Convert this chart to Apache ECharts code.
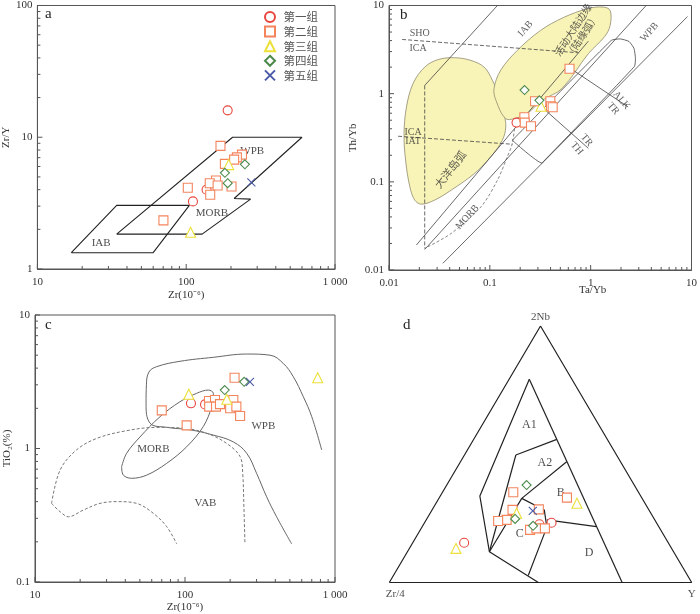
<!DOCTYPE html>
<html><head><meta charset="utf-8">
<script src="https://cdn.jsdelivr.net/npm/echarts@6/dist/echarts.min.js"></script>
<style>html,body{margin:0;padding:0;background:#fff}#c{width:700px;height:614px}</style>
</head><body><div id="c"></div>
<script>
const groups = ['第一组','第二组','第三组','第四组','第五组'];

// ---- Panel a: Zr (1e-6) vs Zr/Y ----
const aG1 = [[190,16.0],[137,4.0],[111,3.26]];
const aG2 = [[170,8.6],[102.5,4.14],[70.3,2.34],[237,7.38],[219,7.04],[210,6.76],[182,6.28],[158.5,4.69],[144,4.48],[162.6,4.3],[201.6,4.23],[145,3.66]];
const aG3 = [[193,6.2],[107,1.9]];
const aG4 = [[248,6.23],[182,5.37],[190,4.48]];
const aG5 = [[274,4.54]];
const aIAB = [[16.9,1.33],[34.1,3.04],[105,3.04],[60,1.33],[16.9,1.33]];
const aMorbWpb = [[34.1,1.84],[127.9,1.84],[271,3.39],[210,3.43],[600,10],[205,10],[34.1,1.84]];
const aLabels = [['WPB',278,7.9],['MORB',149,2.66],['IAB',26.8,1.56]];

// ---- Panel b: Ta/Yb vs Th/Yb ----
const bG1 = [[0.184,0.47]];
const bG2 = [[0.617,1.92],[0.398,0.819],[0.404,0.719],[0.42,0.70],[0.281,0.819],[0.220,0.540],[0.222,0.470],[0.256,0.427]];
const bG3 = [[0.322,0.719]];
const bG4 = [[0.221,1.10],[0.310,0.840]];
const bG5 = [];
const bOceanArc = [[0.0446,2.56],[0.0650,2.38],[0.0879,2.0],[0.106,1.42],[0.124,0.916],[0.138,0.594],[0.144,0.419],[0.133,0.296],[0.102,0.192],[0.0702,0.124],[0.0414,0.0805],[0.0283,0.062],[0.0210,0.0558],[0.0180,0.062],[0.0161,0.0877],[0.0146,0.176],[0.0141,0.352],[0.0149,0.706],[0.0173,1.30],[0.0226,2.0],[0.0305,2.43]];
const bActiveMargin = [[0.144,0.521],[0.115,0.840],[0.110,1.14],[0.128,1.84],[0.187,3.09],[0.318,5.21],[0.538,7.31],[0.949,9.25],[1.33,9.6],[1.56,8.78],[1.56,5.94],[1.38,4.46],[0.949,2.84],[0.518,1.14],[0.330,0.840],[0.234,0.594],[0.186,0.532]];
const bVertical = [[0.0226,1.24],[0.0226,0.0176]];
const bIABLine = [[0.0226,1.24],[0.119,10]];
const bShoIca = [[0.0135,4.12],[0.756,2.91]];
const bIcaIat = [[0.0123,0.329],[0.167,0.267]];
const bLineA = [[0.0187,0.0192],[0.948,3.94]];
const bLineB = [[0.0226,0.0171],[3.55,10]];
const bLineC = [[0.0342,0.0119],[9.14,7.5]];
const bAlkTr = [[0.603,2.0],[2.35,0.706]];
const bTrTh = [[0.356,0.648],[0.948,0.240]];
const bIatCurve = [[0.180,0.521],[0.167,0.272],[0.149,0.192],[0.119,0.1045],[0.0817,0.0521],[0.0414,0.026],[0.0226,0.0176]];
const bWpbField = [[0.167,0.296],[1.60,4.02],[1.96,4.18],[2.40,3.91],[2.69,3.26],[2.78,2.51],[2.72,2.04],[0.342,0.171],[0.330,0.163],[0.167,0.296]];
const bLabels = [['SHO',0.0202,4.78],['ICA',0.0194,3.29],['ICA',0.0173,0.368],['IAT',0.0173,0.284]];
const bLabelsRot = [['IAB',0.226,5.45],['MORB',0.0598,0.0398],['WPB',3.84,4.99],['大洋岛弧',0.0414,0.1355],['活动大陆边缘\n（陆缘弧）',0.757,4.82]];
const bLabelsRotCW = [['ALK',2.02,0.84],['TR',1.67,0.677],['TR',0.912,0.296],['TH',0.728,0.239]];

// ---- Panel c: Zr vs TiO2 ----
const cG1 = [[109.6,2.18],[136,2.14]];
const cG2 = [[214,3.39],[70,1.93],[102.6,1.49],[144.5,2.27],[158.5,2.31],[145,2.06],[161,2.06],[171,2.15],[210,2.31],[200,2.0],[220,2.06],[233,1.75]];
const cG3 = [[106,2.55],[190,2.34],[767,3.39]];
const cG4 = [[184,2.74],[248,3.16]];
const cG5 = [[271,3.16]];
const cWPB = [[514,0.193],[408,0.308],[350,0.435],[300,0.652],[258,0.92],[210,1.12],[154.5,1.26],[108,1.38],[75.5,1.44],[58.4,1.55],[55,2.18],[55.3,3.0],[57.5,3.74],[64.7,4.1],[92.6,4.5],[154.5,4.82],[258,5.1],[369,5.0],[452,4.34],[527,3.45],[615,2.44],[700,1.73],[815,0.975]];
const cMORB = [[37.8,0.731],[38.8,0.632],[44.1,0.598],[55.6,0.632],[75.5,0.774],[102.6,1.03],[132.4,1.46],[150.7,2.06],[154.5,2.59],[143,2.74],[119.6,2.59],[92.6,2.24],[68.1,1.73],[50.1,1.22],[40.8,0.92],[37.8,0.731]];
const cVABOuter = [[12.9,0.388],[14.7,0.69],[18.9,0.975],[25.8,1.19],[40.8,1.36],[64.7,1.44],[97.5,1.42],[139.5,1.30],[190,1.09],[233,0.869],[242.5,0.652],[247,0.366],[251,0.193]];
const cVABInner = [[12.9,0.388],[14.7,0.336],[16.7,0.308],[21,0.346],[27.1,0.388],[35.1,0.4],[47.6,0.388],[61.5,0.327],[75.5,0.26],[88.1,0.193]];
const cLabels = [['MORB',61.5,0.995],['WPB',333,1.47],['VAB',137,0.388]];

// ---- Panel d: ternary [Zr/4, 2Nb, Y] ----
const dG1 = [[34.7,23.3,42.0],[39.0,22.7,38.3],[67.5,15.5,17.0]];
const dG2 = [[41.4,35.2,23.4],[24.7,33.1,42.2],[45.1,28.3,26.6],[49.0,24.4,26.6],[52.0,24.0,24.0],[36.3,28.5,35.2],[43.2,20.5,36.3],[40.8,21.1,38.1],[38.0,21.1,40.9]];
const dG3 = [[22.5,30.9,46.6],[44.4,27.0,28.6],[71.3,13.3,15.4]];
const dG4 = [[35.6,38.0,26.4],[46.0,24.8,29.2],[41.4,22.1,36.5]];
const dG5 = [[38.6,27.9,33.5]];
const dOutline = [[100,0,0],[0,100,0],[0,0,100],[100,0,0]];
const dFieldLines = [
  [[14.1,79.2,6.7],[53.2,33.7,13.1],[60.9,12.0,27.1],[50.7,0,49.3]],
  [[14.1,79.2,6.7],[23.0,0,77.0]],
  [[33.3,49.7,17.0],[16.7,55.8,27.5]],
  [[60.9,12.0,27.1],[33.3,49.7,17.0]],
  [[60.9,12.0,27.1],[39.8,32.8,27.4],[17.8,47.1,35.1]],
  [[39.8,32.8,27.4],[34.6,28.3,37.1],[37.1,21.6,41.3],[52.7,2.7,44.6]],
  [[35.7,24.4,39.9],[20.6,21.8,57.6]]
];
const dLabels = [['A1',23.0,61.4,15.6],['A2',25.2,46.7,28.1],['B',25.9,34.8,39.3],['C',47.4,18.9,33.7],['D',28.2,11.4,60.4]];
const dVertexLabels = [['2Nb',0,100,0,'top'],['Zr/4',100,0,0,'bottom'],['Y',0,0,100,'bottom']];

// tick values
const aXMajor = [10,100,1000], aYMajor = [1,10,100];
const bXMajor = [0.01,0.1,1,10], bYMajor = [0.01,0.1,1,10];
const cXMajor = [10,100,1000], cYMajor = [0.1,1,10];

// ---------- build ----------
const SERIF = '"Liberation Serif","Noto Sans CJK SC",serif';
const AX = '#555';
const tern = p => { const s = p[0]+p[1]+p[2]; const a = p[1]/s, c = p[2]/s; return [c + a/2, a]; };
const minorTicks = (lo, hi) => { const r = []; for (let d = lo; d < hi*0.999; d *= 10) for (let k = 2; k <= 9; k++) r.push(+(k*d).toPrecision(3)); return r; };
const fmt = v => Math.abs(v-1000) < 1e-6 ? '1 000' : String(+(+v).toPrecision(3));

function logAxis(grid, min, max, majors, isX, name, nameGap) {
  return {
    type:'log', logBase:10, gridIndex:grid, min, max, position: isX?'bottom':'left',
    axisLine:{show:true, onZero:false, lineStyle:{color:AX, width:1}},
    axisTick:{show:false},
    axisLabel:{show:true, customValues:majors, formatter:fmt, fontFamily:SERIF, fontSize:11, color:'#333', margin:isX?8:5},
    splitLine:{show:false}, minorTick:{show:false},
    name, nameLocation:'middle', nameGap, nameTextStyle:{fontFamily:SERIF, fontSize:11, color:'#333'}
  };
}
const xAxes = [
  logAxis(0, 10, 1000, aXMajor, true, 'Zr(10⁻⁶)', 21),
  logAxis(1, 0.01, 10, bXMajor, true, '', 20),
  logAxis(2, 10, 1000, cXMajor, true, 'Zr(10⁻⁶)', 18),
  {type:'value', gridIndex:3, min:0, max:1, show:false}
];
const yAxes = [
  logAxis(0, 1, 100, aYMajor, false, 'Zr/Y', 21),
  logAxis(1, 0.01, 10, bYMajor, false, 'Th/Yb', 30),
  logAxis(2, 0.1, 10, cYMajor, false, 'TiO₂(%)', 21),
  {type:'value', gridIndex:3, min:0, max:1, show:false}
];

function tickSeries(panel, xMaj, yMaj, xr, yr) {
  const ticks = [];
  xMaj.forEach(v => ticks.push({pt:[v, yr[0]], dir:'x', len:5}));
  minorTicks(xr[0], xr[1]).forEach(v => ticks.push({pt:[v, yr[0]], dir:'x', len:3}));
  yMaj.forEach(v => ticks.push({pt:[xr[0], v], dir:'y', len:5}));
  minorTicks(yr[0], yr[1]).forEach(v => ticks.push({pt:[xr[0], v], dir:'y', len:3}));
  return {type:'custom', xAxisIndex:panel, yAxisIndex:panel, data:ticks.map(t => t.pt), silent:true, z:6, clip:false,
    renderItem:(params, api) => {
      const t = ticks[params.dataIndex]; const p = api.coord(t.pt);
      const shape = t.dir === 'x' ? {x1:p[0], y1:p[1], x2:p[0], y2:p[1]-t.len} : {x1:p[0], y1:p[1], x2:p[0]+t.len, y2:p[1]};
      return {type:'line', shape, style:{stroke:AX, lineWidth:1}};
    }};
}

const symbolDefs = [
  {symbol:'circle', size:9, color:'#e9463e'},
  {symbol:'rect', size:9, color:'#f3845c'},
  {symbol:'triangle', size:10, color:'#ece03a'},
  {symbol:'diamond', size:9, color:'#4c8a4c'},
  {symbol:'path://M0,0L10,10M10,0L0,10', size:8, color:'#4a5aa6'}
];
function scat(gi, panel, data) {
  const s = symbolDefs[gi];
  return {type:'scatter', name:groups[gi], xAxisIndex:panel, yAxisIndex:panel, data,
    symbol:s.symbol, symbolSize:s.size, itemStyle:{color:'#fff', borderColor:s.color, borderWidth:1.1, opacity:1}, z:5};
}
function line(panel, data, style, smooth) {
  return {type:'line', xAxisIndex:panel, yAxisIndex:panel, data, symbol:'none', smooth:smooth||false,
    lineStyle:style, silent:true, z:3, clip:true};
}
function labels(panel, arr, rotate, fontSize, extra) {
  return {type:'scatter', xAxisIndex:panel, yAxisIndex:panel, symbolSize:0, silent:true, z:4,
    itemStyle:{color:'transparent'},
    data: arr.map(l => ({name:l[0], value:[l[1],l[2]]})),
    label:Object.assign({show:true, position:'inside', formatter:'{b}', rotate:rotate||0, fontFamily:SERIF, fontSize:fontSize||11, color:'#333', lineHeight:(fontSize||11)+1}, extra||{})};
}
function poly(panel, pts, style) {
  return {type:'custom', xAxisIndex:panel, yAxisIndex:panel, data:pts, silent:true, z:1,
    renderItem:(params, api) => {
      if (params.dataIndex !== 0) return null;
      return {type:'polygon', shape:{points:pts.map(p => api.coord(p)), smooth:0.35}, style};
    }};
}

const series = [];
// panel a
const lineA = {color:'#222', width:1.1};
series.push(line(0, aIAB, lineA), line(0, aMorbWpb, lineA));
series.push(labels(0, aLabels, 0, 11, {color:'#222'}));
series.push(tickSeries(0, aXMajor, aYMajor, [10,1000], [1,100]));
// panel b
const blobStyle = {fill:'#f8f3b6', stroke:'#8f8a6e', lineWidth:0.8};
series.push(poly(1, bOceanArc, blobStyle), poly(1, bActiveMargin, blobStyle));
const lb = {color:'#444', width:0.8};
const lbd = {color:'#444', width:0.8, type:[4,2]};
series.push(line(1, bVertical, lbd), line(1, bIABLine, lb), line(1, bShoIca, lbd), line(1, bIcaIat, lbd),
  line(1, bLineA, lb), line(1, bLineB, lb), line(1, bLineC, lb), line(1, bAlkTr, lb), line(1, bTrTh, lb),
  line(1, bIatCurve, {color:'#555', width:0.7, type:[3,2]}, 0.3), line(1, bWpbField, lb, 0.15));
series.push(labels(1, bLabels, 0, 10), labels(1, bLabelsRot.slice(0,3), 48, 10), labels(1, bLabelsRot.slice(3,4), 52, 11),
  labels(1, bLabelsRot.slice(4), 57, 10), labels(1, bLabelsRotCW, -50, 10));
series.push(tickSeries(1, bXMajor, bYMajor, [0.01,10], [0.01,10]));
// panel c
series.push(line(2, cWPB, {color:'#666', width:1}, 0.4), line(2, cMORB, {color:'#666', width:1}, 0.35),
  line(2, cVABOuter, {color:'#777', width:1, type:[3,2]}, 0.35), line(2, cVABInner, {color:'#777', width:1, type:[3,2]}, 0.35));
series.push(labels(2, cLabels, 0, 11, {color:'#222'}));
series.push(tickSeries(2, cXMajor, cYMajor, [10,1000], [0.1,10]));
// panel d
series.push(line(3, dOutline.map(tern), {color:'#222', width:1.2}));
dFieldLines.forEach(f => series.push(line(3, f.map(tern), {color:'#222', width:1.2})));
series.push({type:'scatter', xAxisIndex:3, yAxisIndex:3, symbolSize:0, silent:true, itemStyle:{color:'transparent'},
  data:dLabels.map(l => ({name:l[0], value:tern([l[1],l[2],l[3]])})),
  label:{show:true, position:'inside', formatter:'{b}', fontFamily:SERIF, fontSize:12, color:'#222'}});
dVertexLabels.forEach(l => series.push({type:'scatter', xAxisIndex:3, yAxisIndex:3, symbolSize:0, silent:true, itemStyle:{color:'transparent'},
  data:[{name:l[0], value:tern([l[1],l[2],l[3]])}],
  label:{show:true, position:l[4], distance:l[4]==='top'?3:6, offset:l[0]==='Zr/4'?[6,0]:[0,0], formatter:'{b}', fontFamily:SERIF, fontSize:11, color:'#222'}}));

// samples
const sets = [[aG1,aG2,aG3,aG4,aG5],[bG1,bG2,bG3,bG4,bG5],[cG1,cG2,cG3,cG4,cG5],
  [dG1.map(tern),dG2.map(tern),dG3.map(tern),dG4.map(tern),dG5.map(tern)]];
sets.forEach((set, p) => set.forEach((d, gi) => series.push(scat(gi, p, d))));

const gridStyle = {show:true, borderColor:AX, borderWidth:1, backgroundColor:'transparent', containLabel:false};
const option = {
  animation:false,
  backgroundColor:'#fff',
  grid:[
    Object.assign({left:35, top:4, width:300, height:265}, gridStyle),
    Object.assign({left:389, top:5, width:305, height:265}, gridStyle),
    Object.assign({left:35, top:315, width:300, height:267}, gridStyle),
    {left:389.3, top:326, width:302.4, height:256.5, show:false}
  ],
  xAxis:xAxes, yAxis:yAxes,
  legend:{data:groups, orient:'vertical', left:259, top:6, itemWidth:10, itemHeight:10, itemGap:2.6,
    textStyle:{fontSize:11.5, lineHeight:12, color:'#555', fontFamily:'"Noto Sans CJK SC"', padding:[0,0,0,3.5]}, selectedMode:false},
  graphic:[
    {type:'text', left:45, top:7, style:{text:'a', font:'15px "Liberation Serif"', fill:'#222'}},
    {type:'text', left:400, top:8, style:{text:'b', font:'15px "Liberation Serif"', fill:'#222'}},
    {type:'text', left:45, top:318, style:{text:'c', font:'15px "Liberation Serif"', fill:'#222'}},
    {type:'text', left:403, top:318, style:{text:'d', font:'15px "Liberation Serif"', fill:'#222'}},
    {type:'text', left:579, top:285, style:{text:'Ta/Yb', font:'11px "Liberation Serif"', fill:'#333'}}
  ],
  series
};
const chart = echarts.init(document.getElementById('c'), null, {renderer:'canvas'});
chart.setOption(option);
</script>
</body></html>
